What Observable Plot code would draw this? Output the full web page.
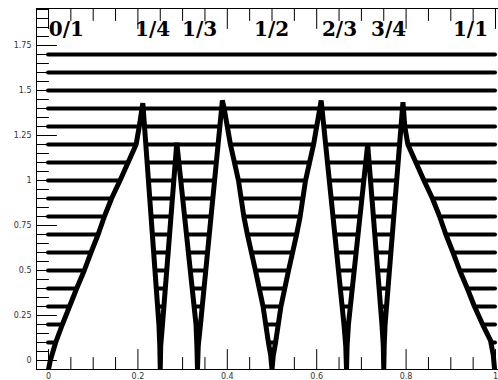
<!DOCTYPE html>
<html><head><meta charset="utf-8">
<script src="https://cdn.jsdelivr.net/npm/d3@7"></script>
<script src="https://cdn.jsdelivr.net/npm/@observablehq/plot@0.6"></script>
<style>body{margin:0;background:#fff} svg{display:block}</style>
</head><body><div id="chart"></div>
<script>
// Horizontal hatch levels
const levels = [0.1,0.2,0.3,0.4,0.5,0.6,0.7,0.8,0.9,1.0,1.1,1.2,1.3,1.4,1.5,1.6,1.7];
// Tongue boundary (sawtooth)
const boundaryX = [
  0, 0.004, 0.016, 0.031, 0.047, 0.063, 0.080, 0.095, 0.111, 0.125, 0.141, 0.160, 0.178, 0.196, 0.203, 0.211,
  0.247, 0.249, 0.25,
  0.251, 0.255, 0.287,
  0.330, 0.332, 0.3333,
  0.335, 0.340, 0.389,
  0.393, 0.407, 0.425, 0.437, 0.445, 0.463, 0.480, 0.492, 0.497, 0.5,
  0.503, 0.508, 0.520, 0.537, 0.555, 0.563, 0.575, 0.593, 0.607, 0.610,
  0.661, 0.665, 0.6667,
  0.668, 0.671, 0.714,
  0.746, 0.749, 0.75,
  0.751, 0.753, 0.793,
  0.797, 0.804, 0.822, 0.840, 0.859, 0.875, 0.889, 0.905, 0.920, 0.937, 0.953, 0.974, 0.989, 0.995, 0.998
];
const boundaryY = [
  -0.05, 0, 0.1, 0.2, 0.3, 0.4, 0.5, 0.6, 0.7, 0.8, 0.9, 1.0, 1.1, 1.2, 1.3, 1.43,
  0.2, 0.08, -0.05,
  0.08, 0.2, 1.21,
  0.2, 0.08, -0.05,
  0.08, 0.2, 1.445,
  1.4, 1.2, 1.0, 0.8, 0.7, 0.5, 0.3, 0.1, 0.03, -0.05,
  0.03, 0.1, 0.3, 0.5, 0.7, 0.8, 1.0, 1.2, 1.4, 1.445,
  0.2, 0.08, -0.05,
  0.08, 0.2, 1.2,
  0.2, 0.08, -0.05,
  0.08, 0.2, 1.435,
  1.3, 1.2, 1.1, 1.0, 0.9, 0.8, 0.7, 0.6, 0.5, 0.4, 0.3, 0.185, 0.11, 0.03, -0.05
];
const labels = ["0/1", "1/4", "1/3", "1/2", "2/3", "3/4", "1/1"];
const labelX = [0.040, 0.233, 0.338, 0.499, 0.651, 0.761, 0.944];
const labelY = 1.838;
const xTicks = [0, 0.2, 0.4, 0.6, 0.8, 1];
const yTicks = [0, 0.25, 0.5, 0.75, 1, 1.25, 1.5, 1.75];
const xMinor = d3.range(0, 1.0001, 0.05);
const yMinor = d3.range(0, 1.9501, 0.05);

const boundary = boundaryX.map((x, i) => ({x, y: boundaryY[i]}));
const [xs, xe] = d3.extent(boundaryX.concat([1]));

const tickShape = {draw(context, l) { context.moveTo(0, 0); context.lineTo(0, -l); }};
const isMajor = (list) => (d) => list.includes(+d.toFixed(2));

const chart = Plot.plot({
  width: 498, height: 380,
  marginLeft: 36, marginRight: 0, marginTop: 8, marginBottom: 11,
  style: {fontFamily: "DejaVu Sans", fontSize: "8px", background: "white"},
  x: {domain: [-0.02685, 1.00671], axis: null},
  y: {domain: [-0.05, 1.9556], axis: null},
  marks: [
    Plot.ruleY(levels, {y: d => d, x1: xs, x2: xe, stroke: "black", strokeWidth: 4, strokeLinecap: "round"}),
    Plot.areaY(boundary, {x: "x", y: "y", fill: "white", clip: true}),
    Plot.line(boundary, {x: "x", y: "y", stroke: "black", strokeWidth: 5, strokeLinejoin: "bevel", strokeLinecap: "butt", clip: true}),
    Plot.text(labels, {x: (d, i) => labelX[i], y: () => labelY, text: d => d, fontFamily: "DejaVu Serif", fontWeight: "bold", fontSize: 20, fill: "black"}),
    Plot.frame({stroke: "black", strokeWidth: 1, insetRight: -3}),
    Plot.vector(yMinor, {y: d => d, frameAnchor: "left", rotate: 90, length: d => isMajor(yTicks)(d) ? 5 : 3, anchor: "start", shape: tickShape, stroke: "black", strokeWidth: 1}),
    Plot.vector(xMinor, {x: d => d, frameAnchor: "bottom", rotate: 0, length: d => isMajor(xTicks)(d) ? 5 : 3, anchor: "start", shape: tickShape, stroke: "black", strokeWidth: 1}),
    Plot.vector(xMinor, {x: d => d, frameAnchor: "top", rotate: 180, length: d => isMajor(xTicks)(d) ? 5 : 3, anchor: "start", shape: tickShape, stroke: "black", strokeWidth: 1}),
    Plot.axisY(yTicks, {anchor: "left", tickSize: 0, tickPadding: 5, tickFormat: d => String(d), label: null, fill: "#333", fontSize: 8}),
    Plot.axisX(xTicks, {anchor: "bottom", tickSize: 0, tickPadding: 4, tickFormat: d => String(d), label: null, fill: "#333", fontSize: 8})
  ]
});
document.getElementById("chart").appendChild(chart);
</script>
</body></html>
